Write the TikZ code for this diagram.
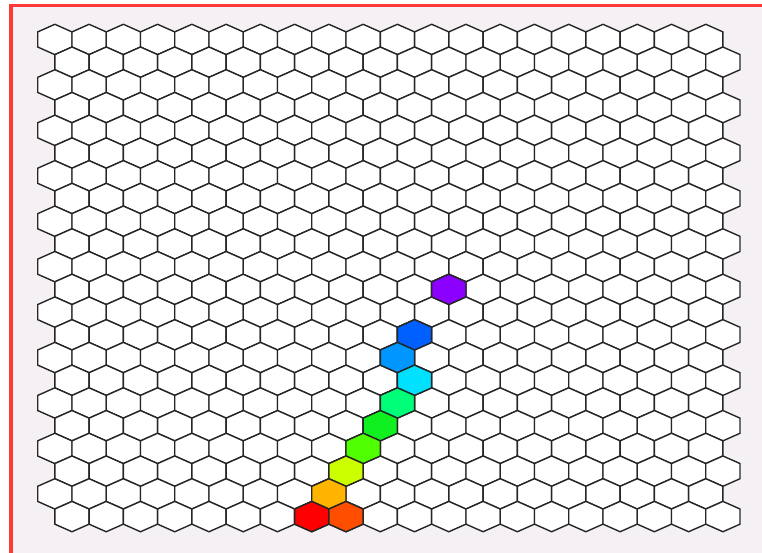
\documentclass[tikz,border=0pt]{standalone}
\definecolor{bgc}{HTML}{F4F0F4}
\definecolor{framered}{HTML}{FF3838}
\definecolor{cviolet}{HTML}{8B00FF}
\definecolor{cblue}{HTML}{0060FF}
\definecolor{cazure}{HTML}{0096FF}
\definecolor{ccyan}{HTML}{00E0FF}
\definecolor{cspring}{HTML}{00FF78}
\definecolor{cgreen}{HTML}{10F020}
\definecolor{clime}{HTML}{50FF00}
\definecolor{cyellowgreen}{HTML}{CCFF00}
\definecolor{corange}{HTML}{FFB400}
\definecolor{cred}{HTML}{FF0000}
\definecolor{corangered}{HTML}{FF4E00}
\newcommand\hexat[3]{%
  \pgfmathsetmacro\hcy{39.46+(#1-1)*22.72}%
  \pgfmathsetmacro\hcx{ifthenelse(mod(#1,2)==1,54.83,71.96)+(#2-1)*34.26}%
  \filldraw[hexcell,fill=#3] (\hcx,\hcy-15.16) -- ++(17.13,7.6) -- ++(0,15.12) -- ++(-17.13,7.6) -- ++(-17.13,-7.6) -- ++(0,-15.12) -- cycle;%
}
\begin{document}
\begin{tikzpicture}[x=1pt,y=-1pt,
  hexcell/.style={draw=black!85,line width=1.4pt,line join=miter}]
\useasboundingbox (0,0) rectangle (762,553);
\fill[white] (0,0) rectangle (762,553);
\fill[bgc] (9,4) rectangle (762,553);
\fill[framered] (9,4) rectangle (762,7.5);
\fill[framered] (9,4) rectangle (12.5,553);
\foreach \r in {1,...,22}{
  \foreach \c in {1,...,20}{
    \hexat{\r}{\c}{white}
  }
}
\hexat{12}{12}{cviolet}
\hexat{14}{11}{cblue}
\hexat{15}{11}{cazure}
\hexat{16}{11}{ccyan}
\hexat{17}{11}{cspring}
\hexat{18}{10}{cgreen}
\hexat{19}{10}{clime}
\hexat{20}{9}{cyellowgreen}
\hexat{21}{9}{corange}
\hexat{22}{8}{cred}
\hexat{22}{9}{corangered}
\end{tikzpicture}
\end{document}
